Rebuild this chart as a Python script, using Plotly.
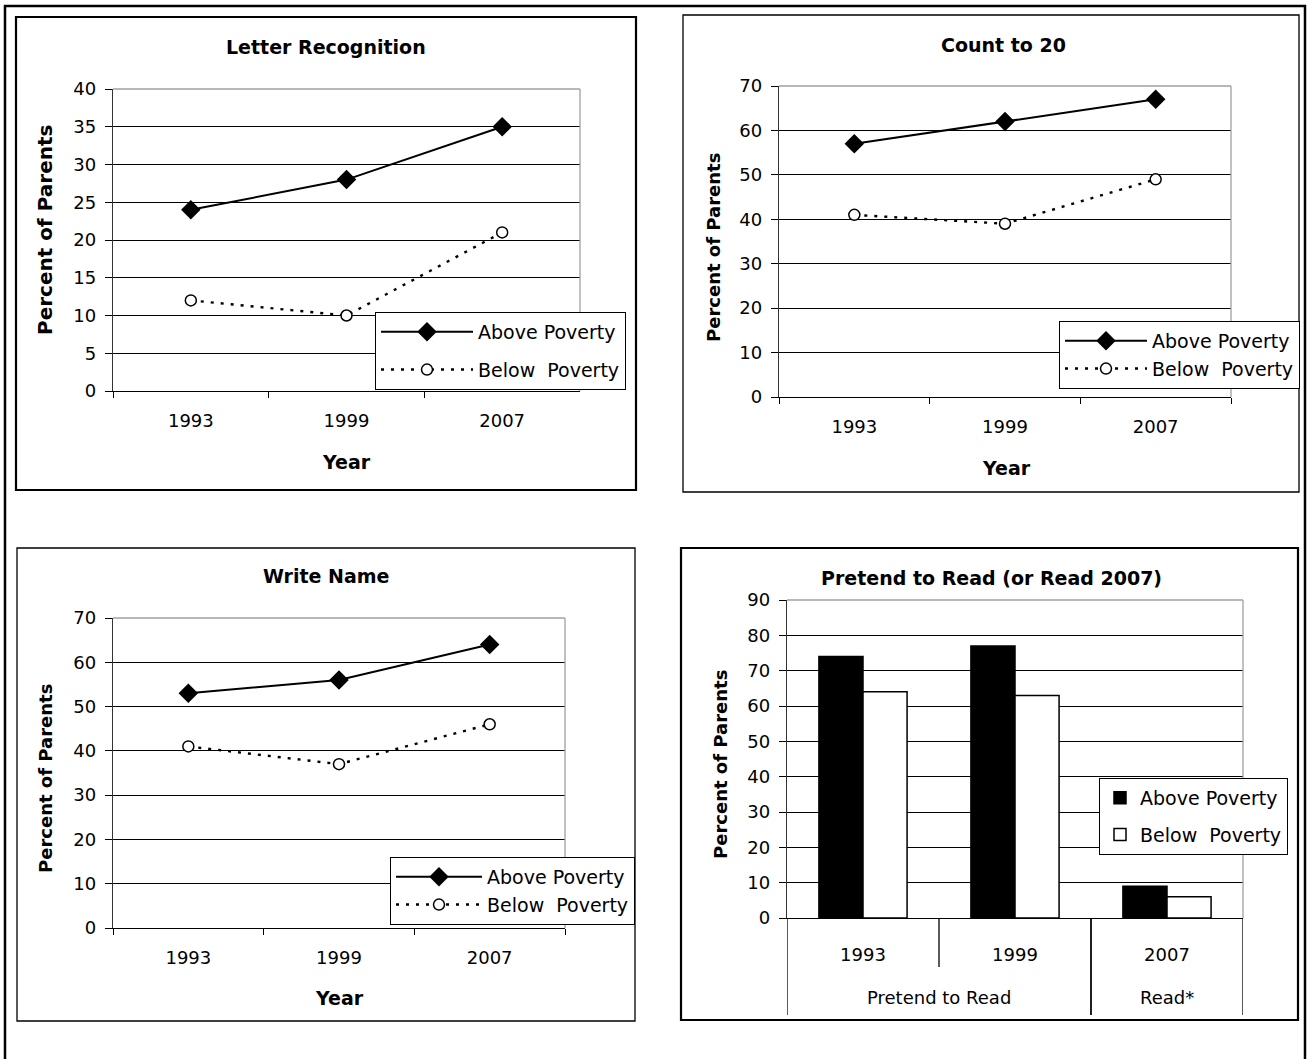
import plotly.graph_objects as go

W, H = 1307, 1059

# ---- data -------------------------------------------------------------
years = ["1993", "1999", "2007"]
series_names = ["Above Poverty", "Below  Poverty"]

letter_above = [24, 28, 35]
letter_below = [12, 10, 21]

count_above = [57, 62, 67]
count_below = [41, 39, 49]

name_above = [53, 56, 64]
name_below = [41, 37, 46]

read_groups = ["Pretend to Read", "Pretend to Read", "Read*"]
read_above = [74, 77, 9]
read_below = [64, 63, 6]

panel_titles = ["Letter Recognition", "Count to 20", "Write Name",
                "Pretend to Read (or Read 2007)"]
y_title = "Percent of Parents"
x_title = "Year"
y_scales = [(40, 5), (70, 10), (70, 10), (90, 10)]

# ---- layout geometry (pixels) -------------------------------------------
plot_boxes = [(113, 89, 580, 391), (779, 86, 1231, 397),
              (113, 618, 565, 928), (787, 600, 1243, 918)]
panel_boxes = [(16, 17, 636, 490, 2.2), (683, 15, 1299, 492, 1.3),
               (17, 548, 635, 1021, 1.3), (681, 548, 1298, 1020, 2.2)]
title_pos = [(326, 47), (1003, 45), (326, 576), (991, 578)]
ytitle_pos = [(45, 230, 20), (713, 248, 18), (45, 779, 18), (720, 765, 18)]
xtitle_pos = [(346, 462), (1006, 468), (339, 998)]
# left, top, group gap, symbol width
legend_pos = [(375, 312, 10, 92), (1059, 321, 0, 82),
              (390, 857, 0, 86), (1099, 778, 9, 30)]

FONT = "DejaVu Sans"


def fx(x):
    return x / W


def fy(y):
    return 1 - y / H


fig = go.Figure()

line_sets = [(letter_above, letter_below), (count_above, count_below),
             (name_above, name_below)]

for i, (above, below) in enumerate(line_sets):
    n = "" if i == 0 else str(i + 1)
    leg = "legend" + n
    fig.add_trace(go.Scatter(
        x=years, y=above, name=series_names[0], mode="lines+markers",
        line=dict(color="black", width=2),
        marker=dict(symbol="diamond", size=15, color="black"),
        xaxis="x" + n, yaxis="y" + n, legend=leg, legendgroup="a" + n))
    fig.add_trace(go.Scatter(
        x=years, y=below, name=series_names[1], mode="lines+markers",
        line=dict(color="black", width=2.4, dash="3px,7px"),
        marker=dict(symbol="circle", size=11, color="white",
                    line=dict(color="black", width=1.5)),
        xaxis="x" + n, yaxis="y" + n, legend=leg, legendgroup="b" + n))

fig.add_trace(go.Bar(
    x=years, y=read_above, name=series_names[0],
    marker=dict(color="black", line=dict(color="black", width=1.5)),
    xaxis="x4", yaxis="y4", legend="legend4", legendgroup="a4"))
fig.add_trace(go.Bar(
    x=years, y=read_below, name=series_names[1],
    marker=dict(color="white", line=dict(color="black", width=1.5)),
    xaxis="x4", yaxis="y4", legend="legend4", legendgroup="b4"))

layout = dict(
    width=W, height=H, autosize=False,
    margin=dict(l=0, r=0, t=0, b=0, autoexpand=False),
    paper_bgcolor="white", plot_bgcolor="white",
    barmode="group", bargap=0.42, bargroupgap=0,
    font=dict(family=FONT, size=18, color="black"),
    showlegend=True,
)

shapes = []
annotations = []

for i, (l, t, r, b) in enumerate(plot_boxes):
    n = "" if i == 0 else str(i + 1)
    ymax, dt = y_scales[i]
    xa = dict(
        domain=[fx(l), fx(r)], anchor="y" + n, type="category",
        range=[-0.5, len(years) - 0.5], tickson="boundaries",
        showline=True, linecolor="black", linewidth=1.3,
        ticks="outside", ticklen=6, tickcolor="black", tickwidth=1,
        ticklabelstandoff=13,
        tickfont=dict(family=FONT, size=18, color="black"),
        showgrid=False, zeroline=False, fixedrange=True,
    )
    if i == 3:
        xa.update(ticks="", ticklabelstandoff=20)
    ya = dict(
        domain=[fy(b), fy(t)], anchor="x" + n,
        range=[0, ymax], dtick=dt, tick0=0,
        showline=True, linecolor="#333333", linewidth=1.3,
        ticks="outside", ticklen=7, tickcolor="black", tickwidth=1,
        tickfont=dict(family=FONT, size=18, color="black"),
        ticklabelstandoff=5,
        showgrid=True, gridcolor="black", gridwidth=1,
        zeroline=False, fixedrange=True,
    )
    layout["xaxis" + n] = xa
    layout["yaxis" + n] = ya

    # grey frame on the top and right of the plotting area
    shapes.append(dict(type="line", xref="paper", yref="paper",
                       x0=fx(l), x1=fx(r), y0=fy(t), y1=fy(t),
                       line=dict(color="#a0a0a0", width=1.3), layer="above"))
    shapes.append(dict(type="line", xref="paper", yref="paper",
                       x0=fx(r), x1=fx(r), y0=fy(t), y1=fy(b),
                       line=dict(color="#a0a0a0", width=1.3), layer="above"))

    tx, ty = title_pos[i]
    annotations.append(dict(
        text=panel_titles[i], x=fx(tx), y=fy(ty), xref="paper", yref="paper",
        xanchor="center", yanchor="middle", showarrow=False,
        font=dict(family=FONT, size=19, color="black", weight="bold")))
    yx, yy, ys = ytitle_pos[i]
    annotations.append(dict(
        text=y_title, x=fx(yx), y=fy(yy), xref="paper", yref="paper",
        xanchor="center", yanchor="middle", showarrow=False, textangle=-90,
        font=dict(family=FONT, size=ys, color="black", weight="bold")))
    if i < 3:
        xx, xy = xtitle_pos[i]
        annotations.append(dict(
            text=x_title, x=fx(xx), y=fy(xy), xref="paper", yref="paper",
            xanchor="center", yanchor="middle", showarrow=False,
            font=dict(family=FONT, size=19, color="black", weight="bold")))

    lx, lyy, gap, iw = legend_pos[i]
    layout["legend" + n] = dict(
        x=fx(lx), y=fy(lyy), xref="paper", yref="paper",
        xanchor="left", yanchor="top",
        bgcolor="white", bordercolor="black", borderwidth=1,
        font=dict(family=FONT, size=19, color="black"),
        itemwidth=iw, tracegroupgap=gap, traceorder="grouped",
        itemclick=False, itemdoubleclick=False,
    )

# two-level category labels under the bar panel: year row, then group row
l4, t4, r4, b4 = plot_boxes[3]
group_spans = []
for idx, g in enumerate(read_groups):
    if group_spans and group_spans[-1][0] == g:
        group_spans[-1][2] = idx
    else:
        group_spans.append([g, idx, idx])

for g, first, last in group_spans:
    annotations.append(dict(
        text=g, x=(first + last) / 2, y=fy(b4 + 79), xref="x4", yref="paper",
        xanchor="center", yanchor="middle", showarrow=False,
        font=dict(family=FONT, size=18, color="black")))
    for edge in (first - 0.5, last + 0.5):
        shapes.append(dict(type="line", xref="x4", yref="paper",
                           x0=edge, x1=edge, y0=fy(b4), y1=fy(b4 + 97),
                           line=dict(color="black", width=1.3)))
    for k in range(first, last):
        shapes.append(dict(type="line", xref="x4", yref="paper",
                           x0=k + 0.5, x1=k + 0.5, y0=fy(b4), y1=fy(b4 + 49),
                           line=dict(color="black", width=1.3)))

# panel frames
for (l, t, r, b, w) in panel_boxes:
    shapes.append(dict(type="rect", xref="paper", yref="paper",
                       x0=fx(l), x1=fx(r), y0=fy(b), y1=fy(t),
                       line=dict(color="black", width=w)))

# outer page frame
shapes.append(dict(type="rect", xref="paper", yref="paper",
                   x0=fx(5), x1=fx(1305), y0=fy(1075), y1=fy(6),
                   line=dict(color="black", width=2.5)))

layout["shapes"] = shapes
layout["annotations"] = annotations
fig.update_layout(**layout)

fig.write_html("out.html")
